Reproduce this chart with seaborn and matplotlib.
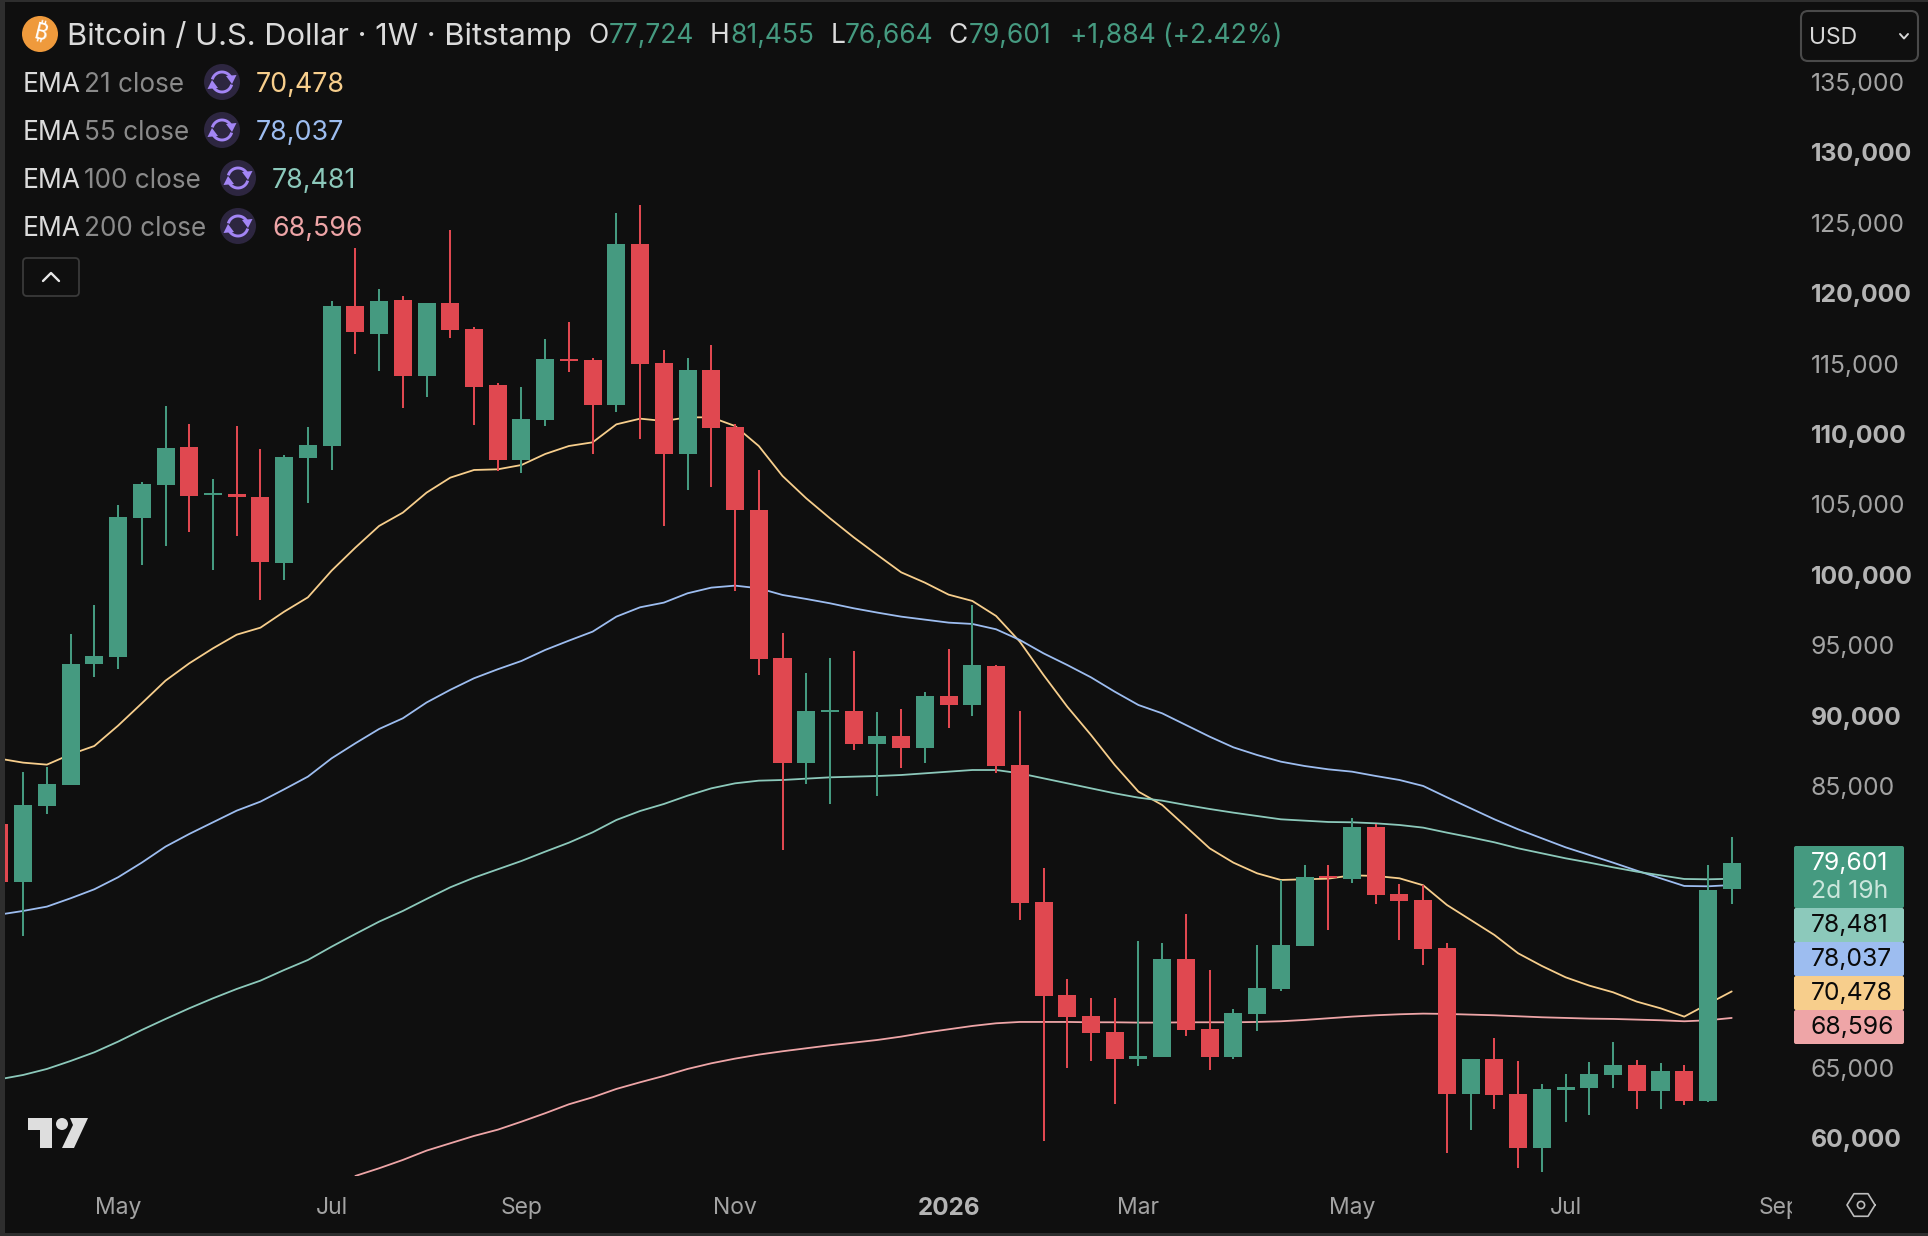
import numpy as np
import pandas as pd
import matplotlib
matplotlib.use("Agg")
import matplotlib.pyplot as plt
import seaborn as sns
from matplotlib.patches import Circle, FancyBboxPatch, Polygon, Rectangle
from matplotlib.transforms import ScaledTranslation

# weekly candles, values
bar_index = np.arange(-3, 71)
opens = [82373, 78255, 83651, 85143, 93738, 94236, 104106, 106449, 109147, 105739, 105810, 105597, 100910, 108366,
         109218, 119160, 117172, 119586, 114189, 119373, 117527, 113550, 108224, 111065,
         115396, 115325, 112130, 123563, 115112, 108650, 114615, 110568, 104674, 94161,
         86705, 90326, 90397, 88054, 88622, 87770, 91462, 90823, 93592, 86562,
         76833, 70230, 68738, 67602, 65685, 65827, 72786, 67815, 65827, 68880,
         70656, 73709, 78680, 78467, 82159, 77401, 76975, 73567, 63199, 65685,
         63199, 59365, 63484, 63626, 64548, 65258, 63412, 64833, 62702, 77724]
highs = [83000, 86066, 86421, 95865, 97928, 105029, 106662, 112059, 110780, 106875, 110638, 109006, 108579, 110568,
         119515, 123278, 120367, 119870, 119373, 124557, 117669, 113692, 113408, 116817,
         118024, 115467, 125764, 126332, 116036, 115467, 116391, 110780, 107514, 95936,
         93095, 94161, 94658, 90326, 90539, 91746, 94800, 97928, 93664, 90396,
         79248, 71365, 70017, 70017, 74064, 73922, 75981, 72005, 69235, 73780,
         78396, 79461, 79461, 82798, 82372, 78112, 78041, 73922, 65685, 67176,
         65543, 63910, 64620, 65472, 66892, 65614, 65401, 65258, 79461, 81455]
lows = [77800, 74420, 83084, 85143, 92839, 93384, 100768, 102117, 103112, 100413, 102828, 98283, 99703, 105171,
        107514, 115751, 114544, 111917, 112698, 116888, 110710, 107443, 107301, 110638,
        114473, 108650, 111633, 109716, 103538, 106094, 106307, 98922, 92957, 80527,
        85213, 83793, 87628, 84361, 86350, 86705, 89190, 90042, 85995, 75555,
        59862, 65046, 65543, 62489, 65188, 65827, 67318, 64904, 65685, 67673,
        70514, 73709, 74845, 78183, 76691, 74135, 72360, 59005, 60640, 62135,
        57940, 57656, 61211, 61708, 63626, 62135, 62135, 62419, 62631, 76664]
closes = [78255, 83722, 85214, 93735, 94306, 104177, 106520, 109076, 105668, 105881, 105597, 100981, 108437, 109290,
          119160, 117314, 119515, 114189, 119373, 117456, 113408, 108224, 111136, 115396,
          115254, 112130, 123563, 115041, 108650, 114615, 110497, 104674, 94093, 86705,
          90397, 90468, 88054, 88622, 87770, 91462, 90823, 93664, 86492, 76762,
          70159, 68667, 67531, 65685, 65898, 72786, 67744, 65827, 68951, 70727,
          73780, 78609, 78538, 82159, 77331, 76905, 73496, 63199, 65685, 63128,
          59360, 63555, 63696, 64620, 65258, 63412, 64833, 62702, 77717, 79601]

ema21 = [87012, 86729, 86587, 87320, 87912, 89356, 90942, 92552, 93782, 94847, 95818, 96315, 97451, 98469,
         100366, 102000, 103538, 104485, 105905, 106970, 107514, 107561, 107869, 108650,
         109218, 109479, 110757, 111159, 110994, 111254, 111254, 110638, 109218, 107088,
         105502, 104082, 102733, 101478, 100247, 99513, 98661, 98212, 97147, 95325,
         92953, 90704, 88692, 86562, 84668, 83721, 82183, 80644, 79627, 78869,
         78396, 78443, 78490, 78727, 78680, 78514, 78017, 76620, 75555, 74490,
         73188, 72289, 71484, 70892, 70419, 69756, 69282, 68690, 69590, 70478]
ema55 = [75935, 76196, 76503, 77095, 77734, 78586, 79628, 80764, 81663, 82492, 83320, 83959, 84834, 85735,
         87036, 88102, 89119, 89877, 91000, 91900, 92721, 93360, 93951, 94732,
         95395, 96034, 97099, 97763, 98094, 98757, 99159, 99301, 99112, 98638,
         98354, 98046, 97692, 97384, 97099, 96886, 96673, 96579, 96200, 95442,
         94491, 93663, 92787, 91769, 90822, 90231, 89402, 88574, 87816, 87272,
         86799, 86491, 86254, 86088, 85781, 85497, 85071, 84266, 83485, 82704,
         81994, 81354, 80715, 80171, 79627, 79058, 78514, 77970, 77946, 78037]
ema100 = [64239, 64547, 64973, 65541, 66157, 66914, 67742, 68523, 69281, 69991, 70654, 71246, 72003, 72713,
          73660, 74560, 75435, 76193, 77046, 77875, 78561, 79153, 79745, 80407,
          81046, 81780, 82656, 83295, 83792, 84384, 84904, 85259, 85449, 85496,
          85591, 85686, 85733, 85780, 85851, 85970, 86088, 86206, 86206, 85970,
          85615, 85260, 84905, 84550, 84242, 84029, 83721, 83437, 83177, 82940,
          82704, 82609, 82514, 82491, 82419, 82301, 82112, 81757, 81425, 81070,
          80644, 80289, 79934, 79627, 79295, 78987, 78727, 78467, 78443, 78481]
# the 200 line is below the pane before bar 12
ema200 = [57375, 57919, 58511, 59174, 59695, 60216, 60660, 61230, 61830,
          62465, 62962, 63554, 64028, 64477, 64974, 65375, 65707, 65992, 66229,
          66442, 66655, 66844, 67033, 67270, 67554, 67791, 68028, 68217, 68312,
          68312, 68312, 68288, 68288, 68265, 68265, 68288, 68288, 68288, 68312,
          68360, 68454, 68573, 68691, 68786, 68857, 68904, 68881, 68833, 68786,
          68715, 68644, 68597, 68549, 68526, 68478, 68431, 68360, 68431, 68596]

price_ticks = [135000, 130000, 125000, 120000, 115000, 110000, 105000, 100000, 95000, 90000, 85000, 65000, 60000]
bold_prices = [130000, 120000, 110000, 100000, 90000, 60000]
month_ticks = [2, 11, 19, 28, 37, 45, 54, 63, 72]
month_labels = ["May", "Jul", "Sep", "Nov", "2026", "Mar", "May", "Jul", "Sep"]

UP = "#459A80"
DOWN = "#E04850"
BG = "#0F0F0F"
ema_rows = [("21", 70478, "#F7CE8C"), ("55", 78037, "#9DBDF0"), ("100", 78481, "#8CC9BB"), ("200", 68596, "#EEA5A7")]
ema_colors = {r[0]: r[2] for r in ema_rows}

W, H = 1928, 1236
sns.set_theme(style="dark", rc={"figure.facecolor": BG, "axes.facecolor": BG, "axes.edgecolor": BG})
plt.rcParams["font.family"] = ["Inter", "DejaVu Sans"]

fig = plt.figure(figsize=(W / 100, H / 100), dpi=100)

# pane in pixels, and how bars/prices map on to it
pane_l, pane_r, pane_t, pane_b = 4.5, 1792, 2, 1176
ax = fig.add_axes([pane_l / W, 1 - pane_b / H, (pane_r - pane_l) / W, (pane_b - pane_t) / H])
step = 23.73
px_per_usd = 0.01408
ax.set_xlim((pane_l - 70.6) / step, (pane_r - 70.6) / step)
ax.set_ylim(79601 - (pane_b - 863) / px_per_usd, 79601 - (pane_t - 863) / px_per_usd)

ema_df = pd.DataFrame({"bar": bar_index, "21": ema21, "55": ema55, "100": ema100})
for name in ["21", "55", "100"]:
    sns.lineplot(data=ema_df, x="bar", y=name, color=ema_colors[name], linewidth=1.3, ax=ax, zorder=2, errorbar=None)
sns.lineplot(x=bar_index[15:], y=ema200, color=ema_colors["200"], linewidth=1.3, ax=ax, zorder=2, errorbar=None)

# candles
opens_a, closes_a = np.array(opens), np.array(closes)
colors = [UP if c >= o else DOWN for o, c in zip(opens, closes)]
ax.vlines(bar_index, lows, highs, colors=colors, linewidth=1.45, zorder=3)
ax.bar(bar_index, np.abs(closes_a - opens_a), bottom=np.minimum(opens_a, closes_a), width=0.76,
       color=colors, linewidth=0, zorder=4)

ax.set_xlabel("")
ax.set_ylabel("")
ax.grid(False)
for s in ax.spines.values():
    s.set_visible(False)

ax.yaxis.tick_right()
ax.set_yticks(price_ticks)
ax.set_yticklabels([f"{p:,}" for p in price_ticks])
ax.tick_params(axis="y", length=0, pad=13.6, labelsize=17.8, labelcolor="#A3A3A3")
lift = ScaledTranslation(0, 1 / 100, fig.dpi_scale_trans)
for p, lab in zip(price_ticks, ax.get_yticklabels()):
    lab.set_transform(lab.get_transform() + lift)
    if p in bold_prices:
        lab.set_fontweight("bold")
        lab.set_color("#B4B4B4")

ax.set_xticks(month_ticks)
ax.set_xticklabels(month_labels)
ax.tick_params(axis="x", length=0, pad=15.3, labelsize=16.5, labelcolor="#A3A3A3")
ax.get_xticklabels()[4].set_fontweight("bold")
ax.get_xticklabels()[4].set_fontsize(17.5)
ax.get_xticklabels()[4].set_color("#B4B4B4")

# overlay in pixel coordinates for the header, badges and icons
ui = fig.add_axes([0, 0, 1, 1], zorder=10)
ui.set_xlim(0, W)
ui.set_ylim(H, 0)
ui.axis("off")
ui.patch.set_alpha(0)

# last Sep label is cut by the price scale
sep_clip = Rectangle((0, 0), pane_r, H, transform=ui.transData)
ax.get_xticklabels()[-1].set_clip_path(sep_clip)
ax.get_xticklabels()[-1].set_clip_on(True)

# window frame
ui.add_patch(Rectangle((0, 0), 4.5, H, color="#2E2E2E", lw=0))
ui.add_patch(Rectangle((0, 0), W, 2, color="#2E2E2E", lw=0))
ui.add_patch(Rectangle((0, 1232.5), W, 4, color="#2E2E2E", lw=0))


def label(x, y, s, color, size=17.8, **kw):
    return ui.text(x, y + 2, s, color=color, fontsize=size, va="center", ha=kw.pop("ha", "left"), **kw)


# header
ui.add_patch(Circle((40, 34), 18, color="#EF9A3C", lw=0))
ui.text(40, 34.5, "\u20bf", color="white", fontsize=17, fontweight="bold",
        family=["Noto Sans", "Roboto", "Open Sans", "Lato", "Liberation Sans", "Noto Sans CJK SC", "DejaVu Sans"],
        rotation=-14, ha="center", va="center")
label(67, 34, "Bitcoin / U.S. Dollar · 1W · Bitstamp", "#DBDBDB", size=22.2)
TEXT = "#DBDBDB"
for x, s in [(588, "O"), (709.5, "H"), (831, "L"), (948, "C")]:
    label(x, 34, s, TEXT, size=19)
for x, s in [(609, "77,724"), (730, "81,455"), (845, "76,664"), (969, "79,601"), (1070, "+1,884 (+2.42%)")]:
    label(x, 34, s, UP, size=19)

# indicator rows
for row_y, (length, value, col), icon_x in zip([83, 131, 179, 227], ema_rows, [222, 222, 238, 238]):
    label(23, row_y, "EMA", "#DBDBDB", size=19)
    label(84, row_y, f"{length} close", "#8A8A8A", size=18.8)
    ui.add_patch(Circle((icon_x, row_y - 1), 18, color="#2D2640", lw=0))
    for a0, a1 in [(-165, -25), (15, 155)]:
        a = np.radians(np.linspace(a0, a1, 30))
        ui.plot(icon_x + 10 * np.cos(a), row_y - 1 + 10 * np.sin(a), color="#A385F5", lw=2.1, solid_capstyle="butt")
    ui.add_patch(Polygon([(icon_x + 4, row_y - 7), (icon_x + 14.5, row_y - 8), (icon_x + 10, row_y + 1)], color="#A385F5", lw=0))
    ui.add_patch(Polygon([(icon_x - 4, row_y + 5), (icon_x - 14.5, row_y + 6), (icon_x - 10, row_y - 3)], color="#A385F5", lw=0))
    label(icon_x + 34, row_y, f"{value:,}", col, size=19.3)

# collapse button
ui.add_patch(FancyBboxPatch((23, 258), 56, 38, boxstyle="round,pad=0,rounding_size=4", fc="none", ec="#3A3A3A", lw=1.3))
ui.plot([43, 51, 59], [281, 273, 281], color="#E6E6E6", lw=1.7)

# currency button
ui.add_patch(FancyBboxPatch((1801, 11), 117, 50, boxstyle="round,pad=0,rounding_size=7", fc="none", ec="#4A4A4A", lw=1.5))
label(1809, 36, "USD", "#D8D8D8", size=16.5)
ui.plot([1900, 1904, 1908], [34, 38.5, 34], color="#D8D8D8", lw=1.4)

# price badges on the scale
ui.add_patch(FancyBboxPatch((1794, 846), 110, 62, boxstyle="round,pad=0,rounding_size=2", color=UP, lw=0))
label(1811, 861, "79,601", "white")
label(1811, 889, "2d 19h", "#CBE6DC")
for top, (length, value, col) in zip([908, 942, 976, 1010], [ema_rows[2], ema_rows[1], ema_rows[0], ema_rows[3]]):
    ui.add_patch(FancyBboxPatch((1794, top), 110, 34, boxstyle="round,pad=0,rounding_size=2", color=col, lw=0))
    label(1811, top + 15, f"{value:,}", "#0A0A0A")

# TradingView mark
ui.add_patch(Polygon([(28, 1118), (52, 1118), (52, 1148), (40, 1148), (40, 1130), (28, 1130)], color="#DEDEDE", lw=0))
ui.add_patch(Circle((62, 1124), 6, color="#DEDEDE", lw=0))
ui.add_patch(Polygon([(70, 1118), (88, 1118), (74, 1148), (62, 1148), (73, 1125)], color="#DEDEDE", lw=0))

# settings hexagon
ang = np.radians(np.arange(0, 361, 60))
ui.plot(1861 + 14 * np.cos(ang), 1205 + 14 * np.sin(ang) * 0.93, color="#BDBDBD", lw=1.2)
ui.add_patch(Circle((1861, 1205), 3.6, fc="none", ec="#BDBDBD", lw=1.2))

fig.savefig("out.png", dpi=100, facecolor=BG)
